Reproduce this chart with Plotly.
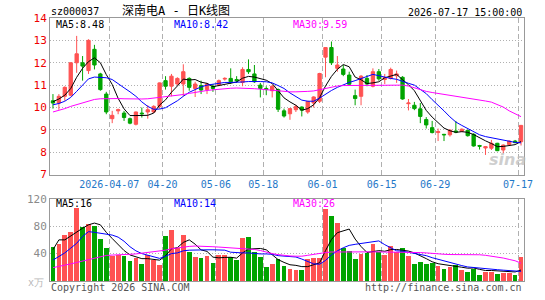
import plotly.graph_objects as go

# ---------------- data ----------------
dates = [
    "2026-03-23", "2026-03-24", "2026-03-25", "2026-03-26", "2026-03-27",
    "2026-03-30", "2026-03-31", "2026-04-01", "2026-04-02", "2026-04-03",
    "2026-04-07", "2026-04-08", "2026-04-09", "2026-04-10",
    "2026-04-13", "2026-04-14", "2026-04-15", "2026-04-16", "2026-04-17",
    "2026-04-20", "2026-04-21", "2026-04-22", "2026-04-23", "2026-04-24",
    "2026-04-27", "2026-04-28", "2026-04-29", "2026-04-30",
    "2026-05-06", "2026-05-07", "2026-05-08",
    "2026-05-11", "2026-05-12", "2026-05-13", "2026-05-14", "2026-05-15",
    "2026-05-18", "2026-05-19", "2026-05-20", "2026-05-21", "2026-05-22",
    "2026-05-25", "2026-05-26", "2026-05-27", "2026-05-28", "2026-05-29",
    "2026-06-01", "2026-06-02", "2026-06-03", "2026-06-04", "2026-06-05",
    "2026-06-08", "2026-06-09", "2026-06-10", "2026-06-11", "2026-06-12",
    "2026-06-15", "2026-06-16", "2026-06-17", "2026-06-18",
    "2026-06-22", "2026-06-23", "2026-06-24", "2026-06-25", "2026-06-26",
    "2026-06-29", "2026-06-30", "2026-07-01", "2026-07-02", "2026-07-03",
    "2026-07-06", "2026-07-07", "2026-07-08", "2026-07-09", "2026-07-10",
    "2026-07-13", "2026-07-14", "2026-07-15", "2026-07-16", "2026-07-17",
]

open_px = [10.3, 10.2, 10.5, 10.55, 12.0, 12.0, 11.65, 12.6, 11.5, 10.6,
           9.5, 9.85, 9.75, 9.5, 9.25, 9.75, 9.8, 9.8, 10.05, 11.2,
           10.95, 11.05, 11.05, 11.3, 10.85, 10.98, 10.8, 10.95, 11.0, 11.27,
           11.3, 11.25, 11.12, 11.7, 11.5, 11.0, 10.85, 10.75, 10.8, 9.85,
           9.72, 9.9, 10.02, 9.8, 10.2, 10.28, 12.25, 12.68, 11.75, 11.72,
           11.45, 10.53, 10.5, 11.3, 10.95, 11.6, 11.25, 11.3, 11.42, 11.35,
           10.17, 10.1, 9.94, 9.46, 9.1, 8.88, 8.8, 8.78, 8.95, 8.94,
           8.98, 8.8, 8.3, 8.19, 8.18, 8.4, 8.1, 8.35, 8.5, 8.47]
high_px = [10.6, 10.6, 10.95, 12.02, 13.2, 12.3, 13.05, 12.8, 11.55, 10.7,
           9.85, 9.95, 9.85, 9.55, 9.82, 10.0, 10.1, 10.1, 11.12, 11.4,
           11.5, 11.35, 11.93, 11.35, 11.15, 11.2, 11.1, 11.05, 11.25, 11.35,
           11.75, 11.4, 11.8, 12.15, 11.9, 11.1, 10.95, 11.0, 10.85, 9.95,
           9.98, 10.12, 10.05, 10.3, 10.5, 11.55, 12.7, 12.95, 12.3, 11.9,
           11.6, 10.8, 11.45, 11.45, 11.75, 11.72, 11.5, 11.78, 11.65, 11.4,
           10.38, 10.25, 10.2, 9.57, 9.4, 9.06, 8.82, 9.02, 9.4, 9.06,
           9.0, 8.85, 8.33, 8.28, 8.55, 8.42, 8.35, 8.53, 8.55, 9.22]
low_px = [9.95, 9.9, 10.3, 10.5, 11.55, 11.2, 11.5, 11.7, 10.75, 9.7,
          9.3, 9.7, 9.4, 9.25, 9.2, 9.55, 9.5, 9.75, 9.95, 10.8,
          10.5, 11.0, 10.5, 10.75, 10.47, 10.6, 10.6, 10.7, 10.95, 11.2,
          11.05, 11.1, 10.95, 11.5, 11.1, 10.45, 10.55, 10.45, 9.8, 9.55,
          9.45, 9.8, 9.6, 9.72, 10.0, 10.2, 11.35, 11.9, 11.6, 11.4,
          11.0, 10.1, 10.1, 10.95, 10.9, 11.2, 11.05, 11.25, 11.1, 10.35,
          9.87, 9.88, 9.3, 9.06, 8.84, 8.5, 8.5, 8.7, 8.85, 8.9,
          8.7, 8.25, 8.12, 7.88, 8.1, 8.05, 7.95, 8.33, 8.4, 8.3]
close_px = [10.2, 10.5, 10.9, 12.0, 12.4, 11.85, 13.0, 11.9, 10.8, 9.8,
            9.65, 9.9, 9.55, 9.3, 9.8, 9.72, 9.9, 10.05, 11.1, 10.95,
            11.4, 11.3, 11.6, 10.9, 11.05, 10.78, 11.05, 10.85, 11.2, 11.3,
            11.15, 11.2, 11.7, 11.6, 11.15, 10.85, 10.8, 10.95, 9.92, 9.62,
            9.95, 10.05, 9.88, 10.27, 10.47, 11.52, 12.68, 12.0, 11.9, 11.48,
            11.04, 10.4, 11.4, 11.05, 11.6, 11.28, 11.34, 11.7, 11.5, 10.38,
            10.2, 9.95, 9.6, 9.22, 8.88, 8.92, 8.78, 8.99, 8.9, 9.03,
            8.74, 8.28, 8.27, 8.25, 8.4, 8.07, 8.32, 8.5, 8.43, 9.2]

ma5 = [10.26, 10.38, 10.55, 10.85, 11.35, 11.75, 12.05, 12.22, 12.0, 11.47,
       11.03, 10.41, 9.94, 9.64, 9.64, 9.65, 9.65, 9.75, 10.11, 10.34,
       10.68, 10.96, 11.27, 11.23, 11.25, 11.13, 11.08, 10.93, 10.99, 11.04,
       11.11, 11.14, 11.31, 11.39, 11.36, 11.3, 11.22, 11.07, 10.73, 10.43,
       10.25, 10.1, 9.88, 9.95, 10.12, 10.44, 10.96, 11.39, 11.71, 11.92,
       11.82, 11.36, 11.24, 11.07, 11.1, 11.15, 11.33, 11.39, 11.48, 11.24,
       11.02, 10.75, 10.33, 9.87, 9.57, 9.31, 9.08, 8.96, 8.89, 8.92,
       8.89, 8.79, 8.64, 8.51, 8.39, 8.25, 8.26, 8.31, 8.34, 8.48]
ma10 = [10.12, 10.18, 10.28, 10.45, 10.72, 11.0, 11.28, 11.36, 11.36, 11.33,
        11.25, 11.08, 10.88, 10.7, 10.5, 10.25, 10.05, 9.92, 9.93, 9.99,
        10.15, 10.3, 10.5, 10.68, 10.8, 10.92, 11.0, 11.05, 11.08, 11.12,
        11.12, 11.12, 11.14, 11.16, 11.17, 11.16, 11.15, 11.1, 10.98, 10.85,
        10.65, 10.48, 10.33, 10.28, 10.28, 10.42, 10.6, 10.76, 10.9, 11.02,
        11.12, 11.2, 11.3, 11.38, 11.48, 11.42, 11.35, 11.3, 11.26, 11.16,
        11.08, 11.0, 10.82, 10.62, 10.35, 10.12, 9.85, 9.58, 9.35, 9.2,
        9.05, 8.9, 8.78, 8.7, 8.65, 8.58, 8.53, 8.48, 8.44, 8.42]
ma30 = [9.8, 9.86, 9.95, 10.05, 10.13, 10.22, 10.3, 10.36, 10.39, 10.4,
        10.4, 10.4, 10.39, 10.38, 10.38, 10.38, 10.39, 10.42, 10.45, 10.48,
        10.5, 10.53, 10.58, 10.63, 10.68, 10.72, 10.76, 10.79, 10.82, 10.85,
        10.86, 10.87, 10.87, 10.86, 10.84, 10.82, 10.79, 10.76, 10.74, 10.71,
        10.7, 10.7, 10.7, 10.72, 10.74, 10.8, 10.86, 10.93, 10.96, 10.98,
        10.99, 11.0, 11.0, 10.99, 10.99, 10.99, 11.0, 11.01, 11.01, 11.0,
        10.96, 10.88, 10.79, 10.72, 10.67, 10.63, 10.6, 10.54, 10.49, 10.46,
        10.42, 10.38, 10.34, 10.29, 10.24, 10.14, 10.02, 9.85, 9.72, 9.59]

volume = [50.5, 54.3, 67.1, 71.9, 107.6, 79.0, 82.9, 80.5, 61.4, 49.0,
          37.1, 38.6, 36.2, 29.0, 33.8, 25.2, 38.6, 30.5, 23.8, 66.2,
          75.2, 48.0, 68.1, 42.4, 34.8, 33.8, 36.7, 26.2, 37.6, 37.6,
          34.8, 31.0, 63.8, 65.2, 42.4, 35.2, 21.0, 25.2, 32.4, 21.9,
          18.1, 16.2, 16.2, 32.4, 33.8, 33.8, 105.2, 94.8, 85.2, 49.0,
          44.8, 32.4, 40.0, 41.9, 53.8, 43.3, 38.1, 51.9, 43.3, 49.0,
          36.2, 24.8, 27.6, 25.2, 26.7, 21.9, 18.1, 21.0, 23.3, 16.2,
          13.0, 17.5, 9.5, 13.0, 14.0, 10.5, 11.5, 11.5, 9.5, 36.0]
vol_ma5 = [45.7, 60, 60, 66, 71, 77, 82, 84.5, 82, 71,
           62, 53, 44.5, 38, 35, 32.6, 32.6, 31.4, 30.4, 36.9,
           46.9, 48.7, 56.3, 60, 53.7, 45.4, 43.2, 34.8, 33.8, 34.4,
           34.6, 33.4, 41, 46.5, 47.4, 47.5, 45.5, 37.8, 31.2, 27.1,
           23.7, 22.8, 21, 21, 23.3, 26.5, 44.3, 60.5, 70.5, 73.6,
           75.8, 61.2, 50.3, 41.6, 42.6, 44.3, 43.4, 45.8, 46, 45.1,
           43.7, 41, 36.2, 32.6, 28.1, 25.2, 23.9, 22.7, 22.2, 20.1,
           18.7, 19, 17, 15.3, 15.3, 14.7, 13.9, 14, 13.2, 16]
vol_ma10 = [30.5, 36, 41, 48, 55, 65, 72, 71, 69.5, 68.6,
            67, 64, 58, 50, 44, 40, 37.5, 34.5, 33, 36,
            40, 41, 44, 45, 45.5, 45.5, 45.5, 45.5, 45.5, 45,
            42, 41, 41, 41, 40, 39.5, 39.5, 39, 37, 36.5,
            35.5, 35, 32, 28, 25, 24.5, 30, 38, 44, 48.5,
            52, 53.5, 55, 56.5, 58, 58.5, 53, 49, 44, 43.5,
            42, 40, 38.5, 37, 34, 31.5, 29.5, 27, 24.5, 22.5,
            20.5, 19.5, 18.5, 17.5, 17, 16.5, 15.8, 15, 14.5, 14]
vol_ma30 = [19.5, 21, 23, 25, 27, 29, 31.5, 34, 36, 37.3,
            37.8, 38.5, 38.7, 39, 39.5, 40.5, 41.5, 42.5, 43.5, 45,
            47, 48.5, 50, 50.5, 51, 51, 50.5, 50, 49.5, 49,
            48.5, 48, 47.5, 47, 46, 44.5, 42, 40, 38.5, 37,
            36.5, 36.2, 36.2, 37.5, 39, 40.5, 41.5, 42.3, 42.5, 42.5,
            42.5, 42.5, 42.5, 42.5, 42.5, 42.5, 42.5, 42.5, 42.5, 42.5,
            42.3, 42, 41.5, 41, 40, 39.5, 39, 38.6, 38.6, 38.6,
            38.6, 38.6, 38.3, 37.5, 36.5, 35.5, 33.5, 31.5, 29.5, 26]

tick_dates = ["2026-04-07", "2026-04-20", "2026-05-06", "2026-05-18",
              "2026-06-01", "2026-06-15", "2026-06-29", "2026-07-17"]
tick_text = ["2026-04-07", "04-20", "05-06", "05-18", "06-01", "06-15", "06-29", "07-17"]

stock_code = "sz000037"
title_text = "深南电A - 日K线图"
timestamp = "2026-07-17 15:00:00"

# ---------------- figure ----------------
RED = "#ff5252"
GREEN = "#00a400"
MA_COLORS = ["#000000", "#0000ff", "#ff00ff"]
MONO = "DejaVu Sans Mono"
GRID = "#b0b0b0"
BORDER = "#999999"

n = len(dates)
xs = list(range(n))
up = [c > o for o, c in zip(open_px, close_px)]
tick_pos = [dates.index(d) - 0.5 for d in tick_dates]

fig = go.Figure()
fig.add_trace(go.Candlestick(
    x=xs, open=open_px, high=high_px, low=low_px, close=close_px,
    increasing=dict(line=dict(color=RED, width=1), fillcolor=RED),
    decreasing=dict(line=dict(color=GREEN, width=1), fillcolor=GREEN),
    whiskerwidth=0, hoverinfo="skip", xaxis="x", yaxis="y"))
for vals, col in zip((ma5, ma10, ma30), MA_COLORS):
    fig.add_trace(go.Scatter(x=xs, y=vals, mode="lines", line=dict(color=col, width=1),
                             hoverinfo="skip", xaxis="x", yaxis="y"))

fig.add_trace(go.Bar(x=xs, y=volume, width=0.8,
                     marker=dict(color=[RED if u else GREEN for u in up], line=dict(width=0)),
                     hoverinfo="skip", xaxis="x2", yaxis="y2"))
for vals, col in zip((vol_ma5, vol_ma10, vol_ma30), MA_COLORS):
    fig.add_trace(go.Scatter(x=xs, y=vals, mode="lines", line=dict(color=col, width=1),
                             hoverinfo="skip", xaxis="x2", yaxis="y2"))

W, H = 545, 300
ML, MR, MT, MB = 50, 15, 18, 15
PW, PH = W - ML - MR, H - MT - MB


def px(x):
    return (x - ML) / PW


def py(y):
    return (H - MB - y) / PH


main_bottom = 177
vol_top = 201.5

axis_common = dict(showline=True, mirror=True, linecolor=BORDER, linewidth=1,
                   ticks="", zeroline=False, fixedrange=True)

fig.update_layout(
    width=W, height=H, margin=dict(l=ML, r=MR, t=MT, b=MB, pad=0),
    paper_bgcolor="white", plot_bgcolor="white", showlegend=False,
    boxgap=0.2, bargap=0,
    xaxis=dict(domain=[0, 1], anchor="y", range=[-0.5, n - 0.5],
               tickmode="array", tickvals=tick_pos, ticktext=tick_text,
               tickfont=dict(family=MONO, size=10, color="#1f78c8"),
               showgrid=True, gridcolor=GRID, griddash="5px,3px", gridwidth=1,
               rangeslider=dict(visible=False), **axis_common),
    yaxis=dict(domain=[py(main_bottom), 1], anchor="x", range=[7, 14],
               tickmode="linear", tick0=7, dtick=1,
               tickfont=dict(family=MONO, size=11, color="#ee0000"),
               showgrid=True, gridcolor=GRID, griddash="1px,2px", gridwidth=1,
               **axis_common),
    xaxis2=dict(domain=[0, 1], anchor="y2", range=[-0.5, n - 0.5], matches="x",
                tickmode="array", tickvals=tick_pos, showticklabels=False,
                showgrid=True, gridcolor=GRID, griddash="5px,3px", gridwidth=1,
                **axis_common),
    yaxis2=dict(domain=[0, py(vol_top)], anchor="x2", range=[0, 120],
                tickmode="array", tickvals=[40, 80, 120],
                tickfont=dict(family=MONO, size=11, color="#8a8a8a"),
                showgrid=True, gridcolor=GRID, griddash="1px,2px", gridwidth=1,
                **axis_common),
)


def note(text, x, y, color, size=10, xanchor="left", family=MONO, **kw):
    fig.add_annotation(text=text, x=px(x), y=py(y), xref="paper", yref="paper",
                       xanchor=xanchor, yanchor="middle", showarrow=False,
                       font=dict(family=family, size=size, color=color), **kw)


note(stock_code, 49, 11, "#000000", size=10)
note(title_text, 121, 10.5, "#000000", size=12, family="DejaVu Sans Mono, Noto Sans CJK SC")
note(timestamp, 530, 12, "#000000", size=10, xanchor="right")

note(f"MA5:{ma5[-1]:.2f}", 54, 25, MA_COLORS[0])
note(f"MA10:{ma10[-1]:.2f}", 174, 25, MA_COLORS[1])
note(f"MA30:{ma30[-1]:.2f}", 294, 25, MA_COLORS[2])

note(f"MA5:{vol_ma5[-1]:.0f}", 54, 206, MA_COLORS[0])
note(f"MA10:{vol_ma10[-1]:.0f}", 174, 206, MA_COLORS[1])
note(f"MA30:{vol_ma30[-1]:.0f}", 294, 206, MA_COLORS[2])

note("x万", 46, 287, "#b8b8b8", size=10, xanchor="right")
note("Copyright 2026 SINA.COM", 49, 292, "#555555")
note("http://finance.sina.com.cn", 530, 292, "#555555", xanchor="right")

note("<b><i>sina</i></b>", 513, 162, "rgba(190,190,190,0.75)", size=16,
     xanchor="center", family="DejaVu Sans")

fig.write_html("out.html")
